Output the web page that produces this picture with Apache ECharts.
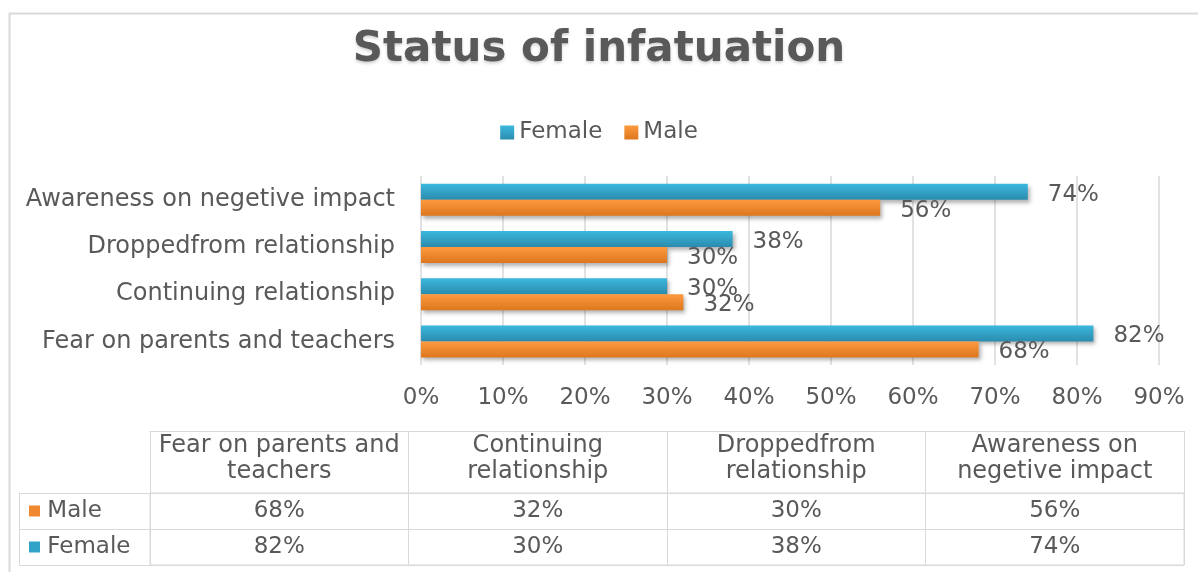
<!DOCTYPE html>
<html>
<head>
<meta charset="utf-8">
<script src="https://cdn.jsdelivr.net/npm/echarts@6/dist/echarts.min.js"></script>
<style>
  html, body { margin: 0; padding: 0; background: #fff; }
  #chart { width: 1198px; height: 572px; }
</style>
</head>
<body>
<div id="chart"></div>
<script>
// datos del grafico
var categorias = ['Fear on parents and teachers', 'Continuing relationship', 'Droppedfrom relationship', 'Awareness on negetive impact'];
var cabeceras = ['Fear on parents and\nteachers', 'Continuing\nrelationship', 'Droppedfrom\nrelationship', 'Awareness on\nnegetive impact'];
var female = [82, 30, 38, 74];
var male = [68, 32, 30, 56];
var filas = ['Male', 'Female'];
var ticks = [0, 10, 20, 30, 40, 50, 60, 70, 80, 90];

var gris = '#595959';
var linea = '#d9d9d9';
var fuente = 'DejaVu Sans';
var tam = 23;

function degradado(arriba, abajo) {
    return new echarts.graphic.LinearGradient(0, 0, 0, 1, [
        { offset: 0, color: arriba },
        { offset: 1, color: abajo }
    ]);
}
var colorFemale = degradado('#3cb8de', '#2a8cae');
var colorMale = degradado('#fd9a40', '#de771d');

// celdas de la tabla de datos (indice de columna, indice de fila, valor)
var celdas = [];
categorias.forEach(function (c, i) {
    celdas.push([i, 0, male[i]]);
    celdas.push([i, 1, female[i]]);
});

var chartDom = document.getElementById('chart');
var myChart = echarts.init(chartDom);

var etiquetaBarra = {
    show: true,
    position: 'right',
    distance: 20,
    offset: [0, 3],
    color: gris,
    fontFamily: fuente,
    fontSize: tam,
    formatter: function (p) { return p.value + '%'; }
};

var option = {
    animation: false,
    backgroundColor: '#fff',
    textStyle: { fontFamily: fuente },
    title: {
        text: 'Status of infatuation',
        left: 'center',
        top: 24,
        textStyle: {
            fontFamily: fuente,
            fontSize: 42,
            fontWeight: 'bold',
            color: gris,
            textShadowColor: 'rgba(0,0,0,0.18)',
            textShadowBlur: 3,
            textShadowOffsetY: 2
        }
    },
    legend: {
        data: ['Female', 'Male'],
        top: 116,
        left: 'center',
        icon: 'rect',
        itemWidth: 14,
        itemHeight: 14,
        itemGap: 22,
        itemStyle: { shadowBlur: 0, shadowOffsetX: 0, shadowOffsetY: 0 },
        textStyle: { fontFamily: fuente, fontSize: tam, color: gris }
    },
    graphic: [{
        type: 'rect',
        left: 7,
        top: 11,
        shape: { width: 1260, height: 640 },
        style: { fill: 'none', stroke: linea, lineWidth: 2 },
        silent: true
    }],
    grid: [
        { left: 421, right: 39, top: 176, bottom: 207 },
        { left: 150, right: 14, top: 493, bottom: 7, show: true, borderColor: linea, borderWidth: 1 }
    ],
    xAxis: [
        {
            gridIndex: 0,
            type: 'value',
            min: ticks[0],
            max: ticks[ticks.length - 1],
            interval: 10,
            axisLine: { show: false },
            axisTick: { show: false },
            axisLabel: { formatter: '{value}%', color: gris, fontSize: tam, margin: 22 },
            splitLine: { lineStyle: { color: linea, width: 1.5 } }
        },
        {
            gridIndex: 1,
            type: 'category',
            position: 'top',
            data: cabeceras,
            axisLine: { show: false },
            axisTick: { show: true, interval: 0, length: 62, lineStyle: { color: linea } },
            axisLabel: { interval: 0, color: gris, fontSize: 24, lineHeight: 26, margin: 8, align: 'center' },
            splitLine: { show: true, interval: 0, lineStyle: { color: linea } }
        },
        {
            gridIndex: 1,
            type: 'category',
            position: 'top',
            offset: 62,
            data: cabeceras,
            axisLine: { show: true, lineStyle: { color: linea } },
            axisTick: { show: false },
            axisLabel: { show: false }
        }
    ],
    yAxis: [
        {
            gridIndex: 0,
            type: 'category',
            data: categorias,
            axisLine: { show: false },
            axisTick: { show: false },
            axisLabel: { color: gris, fontSize: 24, margin: 26, padding: [14, 0, 0, 0] }
        },
        {
            gridIndex: 1,
            type: 'category',
            inverse: true,
            data: filas,
            axisLine: { show: false },
            axisTick: { show: true, interval: 0, length: 131, lineStyle: { color: linea } },
            axisLabel: {
                align: 'left',
                margin: 121,
                color: gris,
                fontSize: tam,
                formatter: function (v) { return (v === 'Male' ? '{m|}' : '{f|}') + ' ' + v; },
                rich: {
                    m: { width: 11, height: 11, backgroundColor: '#f0882f' },
                    f: { width: 11, height: 11, backgroundColor: '#31a3c9' }
                }
            },
            splitLine: { show: true, interval: 0, lineStyle: { color: linea } }
        },
        {
            gridIndex: 1,
            type: 'category',
            inverse: true,
            position: 'left',
            offset: 131,
            data: filas,
            axisLine: { show: true, lineStyle: { color: linea } },
            axisTick: { show: false },
            axisLabel: { show: false }
        }
    ],
    series: [
        {
            name: 'Female',
            type: 'bar',
            xAxisIndex: 0,
            yAxisIndex: 0,
            data: female,
            barWidth: 16,
            barGap: '0%',
            itemStyle: { color: colorFemale, shadowColor: 'rgba(0,0,0,0.3)', shadowBlur: 4, shadowOffsetY: 3, shadowOffsetX: 2 },
            label: etiquetaBarra
        },
        {
            name: 'Male',
            type: 'bar',
            xAxisIndex: 0,
            yAxisIndex: 0,
            data: male,
            barWidth: 16,
            barGap: '0%',
            itemStyle: { color: colorMale, shadowColor: 'rgba(0,0,0,0.3)', shadowBlur: 4, shadowOffsetY: 3, shadowOffsetX: 2 },
            label: etiquetaBarra
        },
        {
            name: 'tabla',
            type: 'scatter',
            xAxisIndex: 1,
            yAxisIndex: 1,
            silent: true,
            symbolSize: 1,
            itemStyle: { color: 'rgba(255,255,255,0)', opacity: 1 },
            encode: { x: 0, y: 1 },
            data: celdas,
            label: {
                show: true,
                position: 'inside',
                color: gris,
                fontSize: tam,
                fontFamily: fuente,
                formatter: function (p) { return p.value[2] + '%'; }
            }
        }
    ]
};

myChart.setOption(option);

window.addEventListener('resize', function () {
    myChart.resize();
});
</script>
</body>
</html>
